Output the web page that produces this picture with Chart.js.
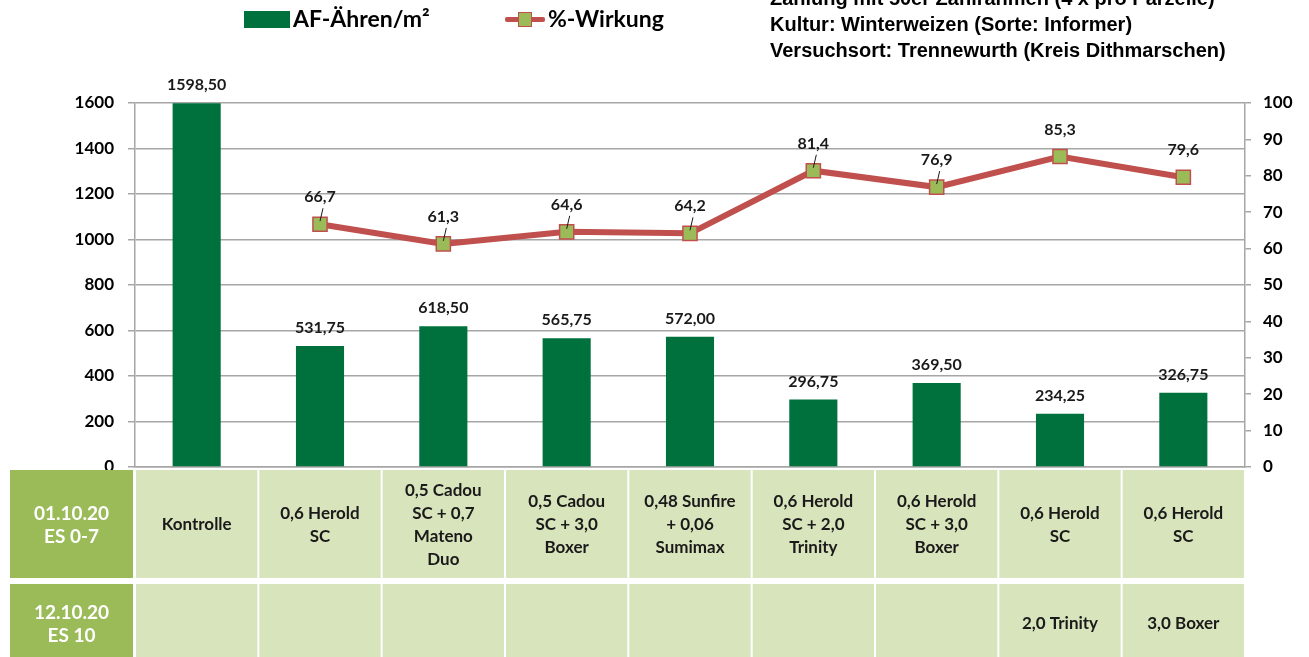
<!DOCTYPE html>
<html>
<head>
<meta charset="utf-8">
<script src="https://cdn.jsdelivr.net/npm/chart.js@4.4.1/dist/chart.umd.min.js"></script>
<style>
  html, body { margin: 0; padding: 0; background: #fff; }
  #wrap { position: relative; width: 1309px; height: 657px; overflow: hidden; }
  #chart { position: absolute; left: 0; top: 0; }
  .hdr { position: absolute; font-family: "Liberation Sans", Arial, sans-serif; font-weight: bold; font-size: 20px; color: #000; white-space: nowrap; line-height: 26px; }
  .leg { position: absolute; top: 4px; font-family: Lato, sans-serif; font-weight: bold; font-size: 23px; color: #000; white-space: nowrap; }
</style>
</head>
<body>
<div id="wrap">
  <canvas id="chart" width="1309" height="657"></canvas>
  <div class="hdr" style="left:770px; top:-15px;">Zählung mit 50er Zählrahmen (4 x pro Parzelle)<br>Kultur: Winterweizen (Sorte: Informer)<br>Versuchsort: Trennewurth (Kreis Dithmarschen)</div>
  <div class="leg" style="left:244px;"><span style="display:inline-block;width:46px;height:17px;background:#00703C;vertical-align:-1px;margin-right:3px;"></span>AF-Ähren/m²</div>
  <div class="leg" style="left:505px;"><span style="display:inline-block;position:relative;width:40px;height:17px;vertical-align:-1px;margin-right:3px;"><span style="position:absolute;left:0;top:6px;width:40px;height:5px;background:#C0504D;border-radius:2px;"></span><span style="position:absolute;left:13px;top:1px;width:12px;height:13px;background:#9BBB59;border:1.5px solid #C0504D;"></span></span>%-Wirkung</div>
</div>
<script>
const categories = ['Kontrolle', '0,6 Herold SC', '0,5 Cadou SC + 0,7 Mateno Duo', '0,5 Cadou SC + 3,0 Boxer',
  '0,48 Sunfire + 0,06 Sumimax', '0,6 Herold SC + 2,0 Trinity', '0,6 Herold SC + 3,0 Boxer', '0,6 Herold SC', '0,6 Herold SC'];
const rowOneLines = [
  ['Kontrolle'],
  ['0,6 Herold', 'SC'],
  ['0,5 Cadou', 'SC + 0,7', 'Mateno', 'Duo'],
  ['0,5 Cadou', 'SC + 3,0', 'Boxer'],
  ['0,48 Sunfire', '+ 0,06', 'Sumimax'],
  ['0,6 Herold', 'SC + 2,0', 'Trinity'],
  ['0,6 Herold', 'SC + 3,0', 'Boxer'],
  ['0,6 Herold', 'SC'],
  ['0,6 Herold', 'SC'],
];
const rowTwoLines = [[], [], [], [], [], [], [], ['2,0 Trinity'], ['3,0 Boxer']];
const rowHeads = [['01.10.20', 'ES 0-7'], ['12.10.20', 'ES 10']];
const ears = [1598.50, 531.75, 618.50, 565.75, 572.00, 296.75, 369.50, 234.25, 326.75];
const effect = [null, 66.7, 61.3, 64.6, 64.2, 81.4, 76.9, 85.3, 79.6];
const leftTicks = [0, 1600, 200];
const rightTicks = [0, 100, 10];

const FONT = 'Lato, sans-serif';
const GREEN = '#00703C', RED = '#C0504D', LIME = '#9BBB59', PALE = '#D8E4BC';

const valueLabels = {
  id: 'valueLabels',
  afterDatasetsDraw(chart) {
    const ctx = chart.ctx;
    ctx.save();
    ctx.fillStyle = '#1a1a1a';
    ctx.font = 'bold 16px ' + FONT;
    ctx.textAlign = 'center';
    ctx.textBaseline = 'bottom';
    chart.getDatasetMeta(1).data.forEach((bar, i) => {
      ctx.fillText(ears[i].toFixed(2).replace('.', ','), bar.x, bar.y - 10);
    });
    chart.getDatasetMeta(0).data.forEach((pt, i) => {
      if (effect[i] == null) return;
      ctx.fillText(effect[i].toFixed(1).replace('.', ','), pt.x, pt.y - 19);
      if (i < 7) {
        ctx.strokeStyle = '#1a1a1a';
        ctx.lineWidth = 1;
        ctx.beginPath();
        ctx.moveTo(pt.x + 3, pt.y - 16);
        ctx.lineTo(pt.x, pt.y - 3);
        ctx.stroke();
      }
    });
    ctx.restore();
  }
};

const tablePlugin = {
  id: 'tablePlugin',
  afterDraw(chart) {
    const ctx = chart.ctx;
    const area = chart.chartArea;
    const x = chart.scales.x;
    const colW = (area.right - area.left) / categories.length;
    const rows = [[area.bottom + 3, area.bottom + 111], [area.bottom + 117, area.bottom + 195]];
    const drawLines = (lines, cx, cy, size) => {
      ctx.font = 'bold ' + size + 'px ' + FONT;
      const lh = 23;
      const start = cy - (lines.length - 1) * lh / 2;
      lines.forEach((t, k) => ctx.fillText(t, cx, start + k * lh));
    };
    ctx.save();
    ctx.textAlign = 'center';
    ctx.textBaseline = 'middle';
    rows.forEach(([top, bottom], r) => {
      ctx.fillStyle = LIME;
      ctx.fillRect(10, top, area.left - 12, bottom - top);
      ctx.fillStyle = '#fff';
      drawLines(rowHeads[r], 10 + (area.left - 12) / 2, (top + bottom) / 2 + 1, 19);
      const content = r === 0 ? rowOneLines : rowTwoLines;
      categories.forEach((c, i) => {
        const cx = x.getPixelForValue(i);
        ctx.fillStyle = PALE;
        ctx.fillRect(cx - colW / 2 + 1, top, colW - 2, bottom - top);
        ctx.fillStyle = '#1a1a1a';
        drawLines(content[i], cx, (top + bottom) / 2 + 1, 17);
      });
    });
    ctx.restore();
  }
};

const tickFont = { family: FONT, size: 17, weight: 'bold' };

new Chart(document.getElementById('chart'), {
  data: {
    labels: categories,
    datasets: [
      {
        type: 'line', label: '%-Wirkung', data: effect, yAxisID: 'y2', order: 0,
        borderColor: RED, borderWidth: 6, tension: 0,
        pointStyle: 'rect', pointRadius: 10, pointBackgroundColor: LIME,
        pointBorderColor: RED, pointBorderWidth: 1.5,
      },
      {
        type: 'bar', label: 'AF-Ähren/m²', data: ears, yAxisID: 'y', order: 1,
        backgroundColor: GREEN, barPercentage: 0.39, categoryPercentage: 1,
      },
    ],
  },
  options: {
    responsive: false, animation: false,
    layout: { padding: { top: 103, bottom: 190, left: 0, right: 0 } },
    plugins: { legend: { display: false }, tooltip: { enabled: false } },
    scales: {
      x: {
        ticks: { display: false },
        grid: { display: false },
        border: { color: '#A6A6A6', width: 1.5 },
        afterFit: s => { s.height = 0; },
      },
      y: {
        position: 'left', min: leftTicks[0], max: leftTicks[1],
        ticks: { stepSize: leftTicks[2], color: '#000', font: tickFont, padding: 14, callback: v => String(v) },
        grid: { color: '#A6A6A6', lineWidth: 1.5, tickLength: 7 },
        border: { color: '#A6A6A6', width: 1.5 },
        afterFit: s => { s.width = 135; },
      },
      y2: {
        position: 'right', min: rightTicks[0], max: rightTicks[1],
        ticks: { stepSize: rightTicks[2], color: '#000', font: tickFont, padding: 12, callback: v => String(v) },
        grid: { drawOnChartArea: false, color: '#A6A6A6', lineWidth: 1.5, tickLength: 6 },
        border: { color: '#A6A6A6', width: 1.5 },
        afterFit: s => { s.width = 64; },
      },
    },
  },
  plugins: [valueLabels, tablePlugin],
});
</script>
</body>
</html>
